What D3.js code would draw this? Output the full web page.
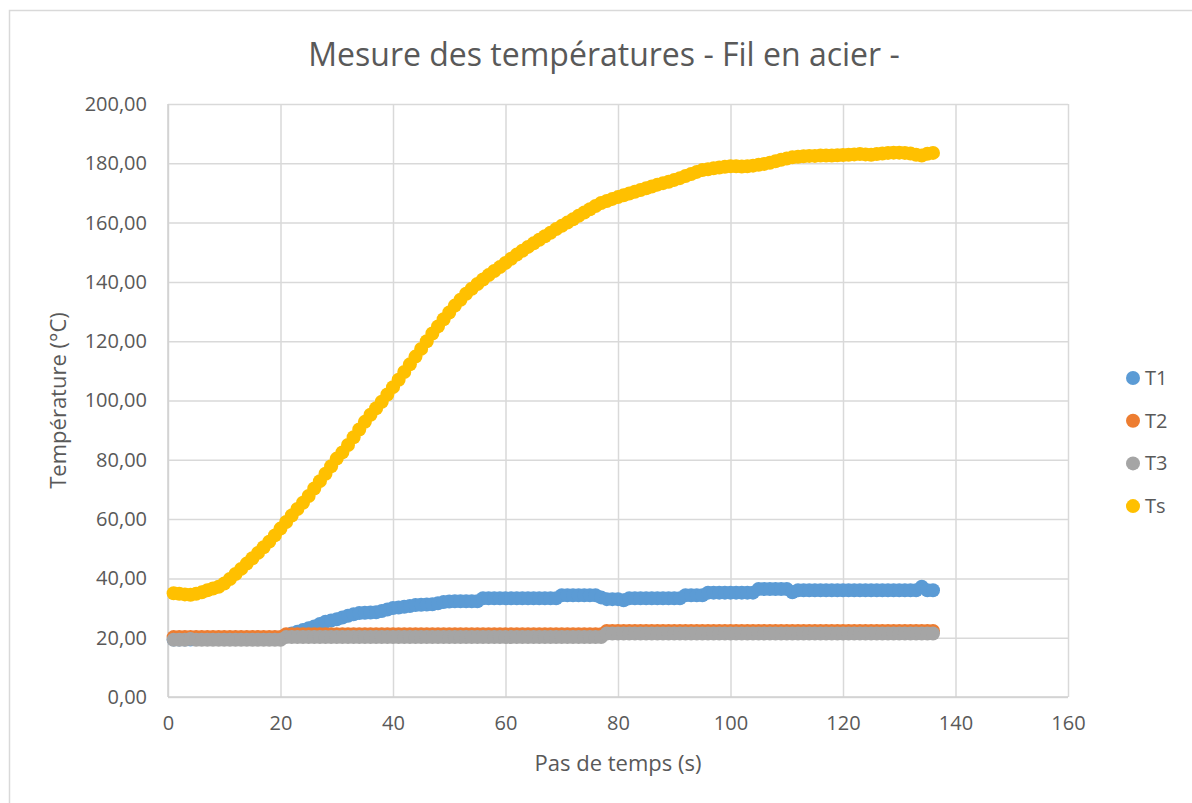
<!DOCTYPE html>
<html>
<head>
<meta charset="utf-8">
<script src="https://cdn.jsdelivr.net/npm/d3@7"></script>
<style>
  body { margin: 0; background: #fff; }
  svg { font-family: "Open Sans", "Liberation Sans", sans-serif; }
</style>
</head>
<body>
<div class="chart"></div>
<script>
// pas de temps (s)
const temps = [
  1,2,3,4,5,6,7,8,9,10,11,12,13,14,15,16,17,18,19,20,
  21,22,23,24,25,26,27,28,29,30,31,32,33,34,35,36,37,38,39,40,
  41,42,43,44,45,46,47,48,49,50,51,52,53,54,55,56,57,58,59,60,
  61,62,63,64,65,66,67,68,69,70,71,72,73,74,75,76,77,78,79,80,
  81,82,83,84,85,86,87,88,89,90,91,92,93,94,95,96,97,98,99,100,
  101,102,103,104,105,106,107,108,109,110,111,112,113,114,115,116,117,118,119,120,
  121,122,123,124,125,126,127,128,129,130,131,132,133,134,135,136
];

const T1 = [
  19.4,19.4,19.4,19.4,20.0,20.0,20.0,20.0,20.0,20.0,20.0,20.0,20.0,20.0,20.0,20.0,20.0,20.0,20.0,20.0,
  20.6,21.4,22.0,22.6,23.2,23.8,24.6,25.4,25.8,26.2,26.8,27.4,27.9,28.3,28.4,28.5,28.6,29.0,29.5,30.0,
  30.2,30.4,30.7,31.0,31.1,31.2,31.3,31.6,32.0,32.2,32.3,32.3,32.3,32.3,32.3,33.3,33.3,33.3,33.3,33.3,
  33.3,33.3,33.3,33.3,33.3,33.3,33.3,33.3,33.3,34.3,34.3,34.3,34.3,34.3,34.3,34.3,33.6,33.0,33.0,33.0,
  32.6,33.3,33.3,33.3,33.3,33.3,33.3,33.3,33.3,33.3,33.3,34.3,34.3,34.3,34.3,35.2,35.2,35.2,35.2,35.2,
  35.2,35.2,35.2,35.2,36.4,36.4,36.4,36.4,36.4,36.4,35.3,36.0,36.0,36.0,36.0,36.0,36.0,36.0,36.0,36.0,
  36.0,36.0,36.0,36.0,36.0,36.0,36.0,36.0,36.0,36.0,36.0,36.0,36.0,37.2,36.0,36.0
];

const T2 = [
  20.2,20.2,20.2,20.2,20.2,20.2,20.2,20.2,20.2,20.2,20.2,20.2,20.2,20.2,20.2,20.2,20.2,20.2,20.2,20.2,
  21.2,21.2,21.2,21.2,21.2,21.2,21.2,21.2,21.2,21.2,21.2,21.2,21.2,21.2,21.2,21.2,21.2,21.2,21.2,21.2,
  21.2,21.2,21.2,21.2,21.2,21.2,21.2,21.2,21.2,21.2,21.2,21.2,21.2,21.2,21.2,21.2,21.2,21.2,21.2,21.2,
  21.2,21.2,21.2,21.2,21.2,21.2,21.2,21.2,21.2,21.2,21.2,21.2,21.2,21.2,21.2,21.2,21.2,22.3,22.3,22.3,
  22.3,22.3,22.3,22.3,22.3,22.3,22.3,22.3,22.3,22.3,22.3,22.3,22.3,22.3,22.3,22.3,22.3,22.3,22.3,22.3,
  22.3,22.3,22.3,22.3,22.3,22.3,22.3,22.3,22.3,22.3,22.3,22.3,22.3,22.3,22.3,22.3,22.3,22.3,22.3,22.3,
  22.3,22.3,22.3,22.3,22.3,22.3,22.3,22.3,22.3,22.3,22.3,22.3,22.3,22.3,22.3,22.3
];

const T3 = [
  19.3,19.3,19.3,19.6,19.3,19.3,19.3,19.3,19.3,19.3,19.3,19.3,19.3,19.3,19.3,19.3,19.3,19.3,19.3,19.3,
  20.2,20.2,20.2,20.2,20.2,20.2,20.2,20.2,20.2,20.2,20.2,20.2,20.2,20.2,20.2,20.2,20.2,20.2,20.2,20.2,
  20.2,20.2,20.2,20.2,20.2,20.2,20.2,20.2,20.2,20.2,20.2,20.2,20.2,20.2,20.2,20.2,20.2,20.2,20.2,20.2,
  20.2,20.2,20.2,20.2,20.2,20.2,20.2,20.2,20.2,20.2,20.2,20.2,20.2,20.2,20.2,20.2,20.2,21.4,21.4,21.4,
  21.4,21.4,21.4,21.4,21.4,21.4,21.4,21.4,21.4,21.4,21.4,21.4,21.4,21.4,21.4,21.4,21.4,21.4,21.4,21.4,
  21.4,21.4,21.4,21.4,21.4,21.4,21.4,21.4,21.4,21.4,21.4,21.4,21.4,21.4,21.4,21.4,21.4,21.4,21.4,21.4,
  21.4,21.4,21.4,21.4,21.4,21.4,21.4,21.4,21.4,21.4,21.4,21.4,21.4,21.4,21.4,21.4
];

const Ts = [
  35.0,34.8,34.6,34.5,34.8,35.3,36.0,36.6,37.2,38.3,39.8,41.5,43.2,45.0,46.8,48.6,50.5,52.4,54.5,56.8,
  59.0,61.2,63.4,65.5,67.8,70.3,72.8,75.3,77.8,80.4,82.5,85.0,87.6,90.2,92.8,95.2,97.4,99.6,102.0,104.5,
  107.0,109.6,112.2,114.8,117.4,120.0,122.6,125.0,127.4,129.7,132.0,134.0,136.0,137.7,139.3,140.8,142.3,143.7,145.0,146.4,
  147.8,149.2,150.5,151.8,153.0,154.2,155.4,156.6,157.8,158.9,160.0,161.1,162.3,163.4,164.5,165.6,166.6,167.3,168.0,168.6,
  169.2,169.8,170.4,171.0,171.6,172.2,172.8,173.3,173.8,174.4,175.0,175.7,176.4,177.1,177.7,178.0,178.3,178.6,178.8,179.0,
  179.0,178.9,179.0,179.2,179.5,179.8,180.2,180.7,181.2,181.6,182.0,182.2,182.4,182.5,182.5,182.6,182.6,182.6,182.7,182.8,
  182.9,183.0,183.1,183.0,182.9,183.1,183.3,183.5,183.6,183.6,183.5,183.3,182.9,182.6,183.2,183.5
];

const seriesNames = ['T1', 'T2', 'T3', 'Ts'];
const seriesColors = ['#5B9BD5', '#ED7D31', '#A5A5A5', '#FFC000'];
const seriesValues = [T1, T2, T3, Ts];

const xTicks = [0, 20, 40, 60, 80, 100, 120, 140, 160];
const yTicks = [0, 20, 40, 60, 80, 100, 120, 140, 160, 180, 200];

const svg_width = 1192, svg_height = 803;
const plot = {left: 168, top: 104, right: 1068, bottom: 697};

const svg = d3.select('.chart').append('svg')
  .attr('width', svg_width).attr('height', svg_height);

// cadre du graphique
svg.append('rect')
  .attr('x', 9.5).attr('y', 10.5)
  .attr('width', 1200).attr('height', 820)
  .attr('fill', '#fff').attr('stroke', '#D9D9D9').attr('stroke-width', 1.5);

const xScale = d3.scaleLinear([0, 160], [plot.left, plot.right]);
const yScale = d3.scaleLinear([0, 200], [plot.bottom, plot.top]);

const fmtY = d => d3.format('.2f')(d).replace('.', ',');

// grille verticale + étiquettes x
const xAxis = d3.axisBottom(xScale).tickValues(xTicks)
  .tickSizeInner(-(plot.bottom - plot.top)).tickSizeOuter(0).tickPadding(19)
  .tickFormat(d3.format('d'));
const xAxisDraw = svg.append('g').attr('class', 'x axis')
  .attr('transform', `translate(0,${plot.bottom})`).call(xAxis);
xAxisDraw.select('.domain').remove();

// grille horizontale + étiquettes y
const yAxis = d3.axisLeft(yScale).tickValues(yTicks)
  .tickSizeInner(-(plot.right - plot.left)).tickSizeOuter(0).tickPadding(21)
  .tickFormat(fmtY);
const yAxisDraw = svg.append('g').attr('class', 'y axis')
  .attr('transform', `translate(${plot.left},0)`).call(yAxis);
yAxisDraw.select('.domain').remove();

svg.selectAll('.axis line').attr('stroke', '#D9D9D9').attr('stroke-width', 1.5);
svg.selectAll('.axis text').attr('fill', '#595959').style('font-size', '20px')
  .style('font-family', '"Open Sans", sans-serif');

// axe y et x (ligne de base)
svg.append('line').attr('x1', plot.left).attr('x2', plot.left)
  .attr('y1', plot.top).attr('y2', plot.bottom)
  .attr('stroke', '#D0D0D0').attr('stroke-width', 1.5);
svg.append('line').attr('x1', plot.left).attr('x2', plot.right)
  .attr('y1', plot.bottom).attr('y2', plot.bottom)
  .attr('stroke', '#D0D0D0').attr('stroke-width', 1.5);

// points des séries
seriesValues.forEach((vals, i) => {
  svg.append('g').attr('class', 'serie')
    .selectAll('circle').data(vals).join('circle')
    .attr('cx', (d, j) => xScale(temps[j]))
    .attr('cy', d => yScale(d))
    .attr('r', 7)
    .attr('fill', seriesColors[i]);
});

// titre
svg.append('text')
  .attr('x', 604).attr('y', 66)
  .attr('text-anchor', 'middle')
  .attr('fill', '#595959').style('font-size', '32px')
  .text('Mesure des températures - Fil en acier -');

// titres des axes
svg.append('text')
  .attr('x', (plot.left + plot.right) / 2).attr('y', 771)
  .attr('text-anchor', 'middle')
  .attr('fill', '#595959').style('font-size', '22px')
  .text('Pas de temps (s)');

svg.append('text')
  .attr('transform', `translate(66,${(plot.top + plot.bottom) / 2}) rotate(-90)`)
  .attr('text-anchor', 'middle')
  .attr('fill', '#595959').style('font-size', '22px')
  .text('Température (°C)');

// légende
const legend = svg.append('g').attr('class', 'legend')
  .selectAll('g').data(seriesNames).join('g')
  .attr('transform', (d, i) => `translate(1133,${378 + i * 42.7})`);
legend.append('circle').attr('r', 7).attr('fill', (d, i) => seriesColors[i]);
legend.append('text').attr('x', 12).attr('dy', '0.35em')
  .attr('fill', '#595959').style('font-size', '20px')
  .text(d => d);
</script>
</body>
</html>
